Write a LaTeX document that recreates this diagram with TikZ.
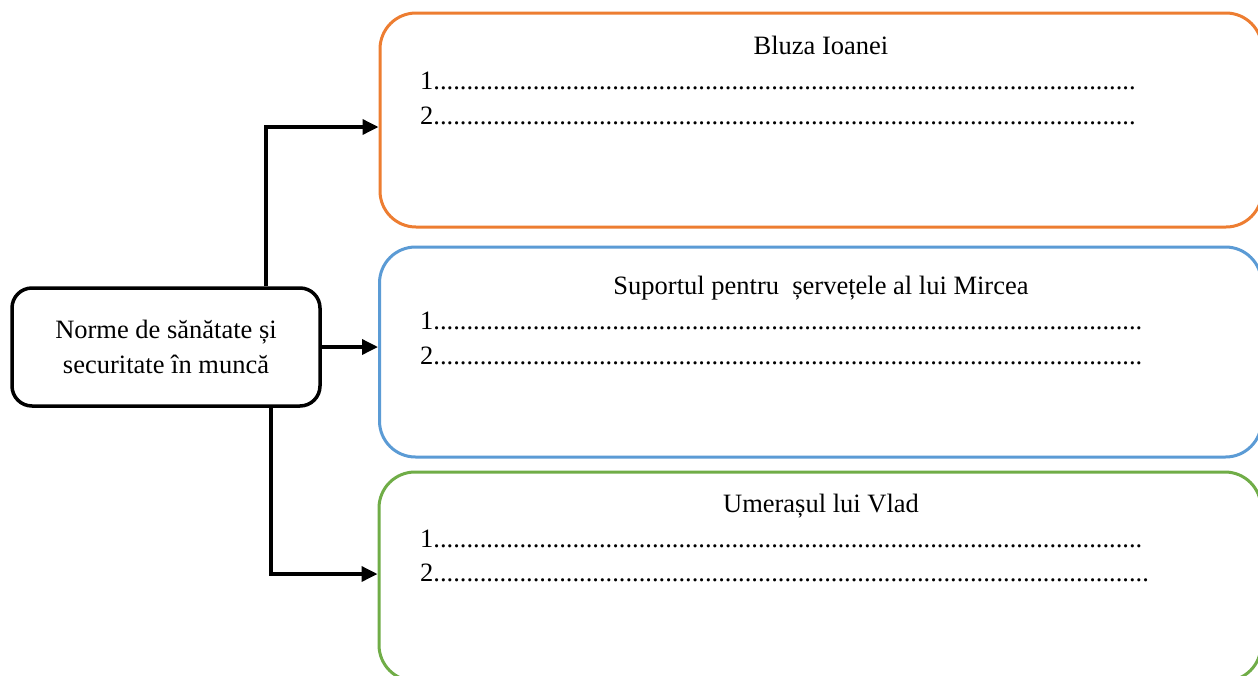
\documentclass[tikz,border=0pt]{standalone}
\usepackage{fontspec}
\setmainfont{Liberation Serif}
\usetikzlibrary{arrows.meta}
\definecolor{orangeC}{HTML}{ED7D31}
\definecolor{blueC}{HTML}{5B9BD5}
\definecolor{greenC}{HTML}{70AD47}
\newcommand\dotrun[1]{\foreach \i in {1,...,#1}{.}}
\tikzset{
  txt/.style={font=\fontsize{26.5}{35}\selectfont, inner sep=0pt},
  lbox/.style={draw=black, line width=3.5pt, rounded corners=20pt, minimum width=308pt, minimum height=118pt, align=center, inner sep=0pt, font=\fontsize{26.5}{35}\selectfont},
  cbox/.style={line width=3pt, rounded corners=36pt, minimum width=882pt, inner sep=0pt},
  arr/.style={draw=black, line width=3.5pt, -{Triangle[length=16pt,width=15pt]}},
  line/.style={txt, anchor=base west},
  title/.style={txt, anchor=base}
}
\begin{document}
\begin{tikzpicture}[x=1pt,y=-1pt]
\useasboundingbox (0,0) rectangle (1258,675);
\clip (0,0) rectangle (1258,675);
\fill[white] (0,0) rectangle (1258,675);
% boxes
\node[cbox, draw=orangeC, minimum height=214pt] (b1) at (821,120) {};
\node[cbox, draw=blueC, minimum height=210pt] (b2) at (820.5,352) {};
\node[cbox, draw=greenC, minimum height=209pt] (b3) at (820,576.5) {};
\node[lbox] (src) at (166,347) {Norme de sănătate și\\securitate în muncă};
% texts
\node[title] (t1) at (821,54) {Bluza Ioanei};
\node[line] (l11) at (420,89) {1\dotrun{106}};
\node[line] (l12) at (420,124) {2\dotrun{106}};
\node[title] (t2) at (821,294) {Suportul pentru \ șervețele al lui Mircea};
\node[line] (l21) at (420,329) {1\dotrun{107}};
\node[line] (l22) at (420,364) {2\dotrun{107}};
\node[title] (t3) at (821,512) {Umerașul lui Vlad};
\node[line] (l31) at (420,547) {1\dotrun{107}};
\node[line] (l32) at (420,581) {2\dotrun{108}};
% connectors
\coordinate (c1) at (266,127);
\coordinate (c3) at (271,574);
\draw[arr] (src.north -| c1) |- (b1.west |- c1);
\draw[arr] (src.east) -- (b2.west |- src.east);
\draw[arr] (src.south -| c3) |- (b3.west |- c3);
\end{tikzpicture}
\end{document}
